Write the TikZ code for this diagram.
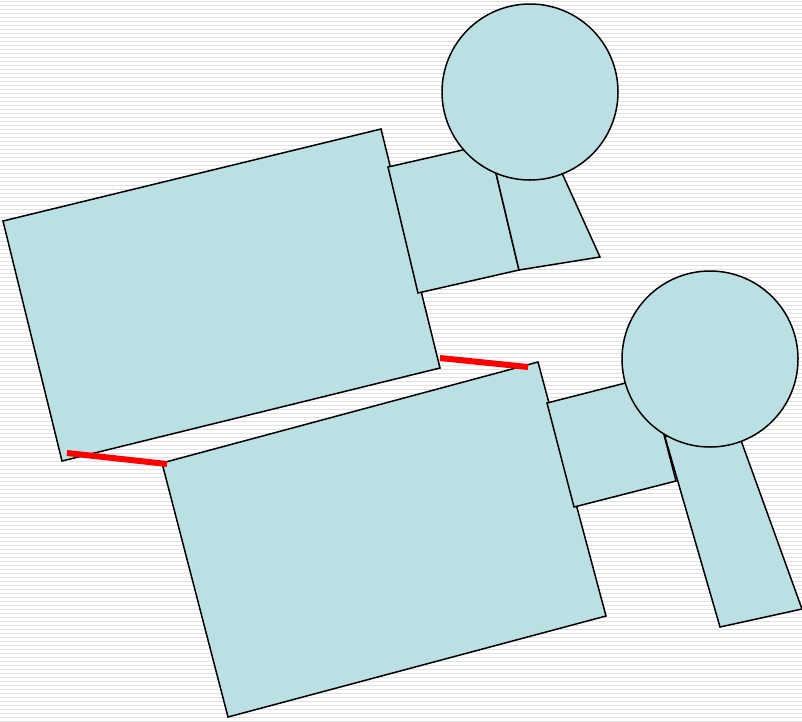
\documentclass[tikz,border=0pt]{standalone}
\definecolor{partfill}{RGB}{187,224,227}
\definecolor{stripe}{RGB}{226,226,226}
\tikzset{
  part/.style={fill=partfill, draw=black, line width=1.5pt, line join=miter},
  redbar/.style={draw=red, line width=6pt},
}
\begin{document}
\begin{tikzpicture}[x=1pt,y=-1pt]
\useasboundingbox (0,0) rectangle (802,721);
\fill[white] (0,0) rectangle (802,721);
\foreach \i in {0,...,180} {
  \fill[stripe] (0,{\i*4+1}) rectangle (802,{\i*4+2.4});
}
% upper figure
\draw[part] (3,221) -- (381,129) -- (440,368) -- (62,461) -- cycle;
\draw[part] (388,167) -- (489,144) -- (519,270) -- (418,293) -- cycle;
\draw[part] (490.5,150) -- (547,140) -- (600,257) -- (519,270) -- cycle;
\node[part, circle, minimum size=176pt, inner sep=0pt] (c1) at (530,92) {};
% lower figure
\draw[part] (162,463) -- (538,362) -- (606,616) -- (228,717) -- cycle;
\draw[part] (547,403) -- (649,377) -- (676,481) -- (574,507) -- cycle;
\draw[part] (665,437) -- (730,410) -- (802,609) -- (720,627) -- cycle;
\node[part, circle, minimum size=176pt, inner sep=0pt] (c2) at (710,359) {};
% red bars
\coordinate (r1a) at (67,453);
\coordinate (r1b) at (167,464);
\coordinate (r2a) at (440,358);
\coordinate (r2b) at (528,367);
\draw[redbar] (r1a) -- (r1b);
\draw[redbar] (r2a) -- (r2b);
\end{tikzpicture}
\end{document}
